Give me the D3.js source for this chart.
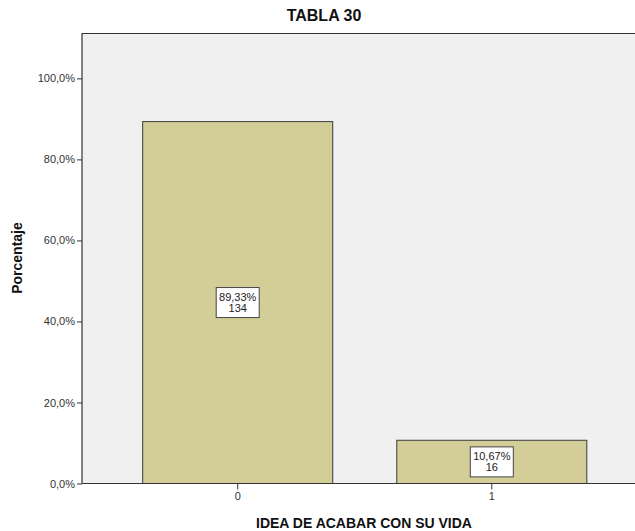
<!DOCTYPE html>
<html>
<head>
<meta charset="utf-8">
<script src="https://cdn.jsdelivr.net/npm/d3@7"></script>
<style>
  html, body { margin: 0; padding: 0; background: #fff; }
  svg { display: block; font-family: Arial, "Liberation Sans", sans-serif; }
</style>
</head>
<body>
<svg id="chart" width="635" height="531"></svg>
<script>
// Frequency of "IDEA DE ACABAR CON SU VIDA"
const categories = ["0", "1"];
const percentages = [89.33, 10.67];
const counts = [134, 16];
const yTicks = [0, 20, 40, 60, 80, 100];
const yTickLabels = ["0,0%", "20,0%", "40,0%", "60,0%", "80,0%", "100,0%"];

const svg = d3.select("#chart");
const W = 635, H = 531;
const plot = { left: 82, top: 33, bottom: 483.5, right: 647.5 };

const y = d3.scaleLinear().domain([0, 111.2]).range([plot.bottom, plot.top]);
const x = d3.scaleBand()
  .domain(categories)
  .range([plot.left, plot.right])
  .paddingInner(0.252)
  .paddingOuter(0.2388);

// Plot background
svg.append("rect")
  .attr("x", plot.left).attr("y", plot.top)
  .attr("width", plot.right - plot.left).attr("height", plot.bottom - plot.top)
  .attr("fill", "#f0f0f0");

// Bars
svg.append("g").selectAll("rect")
  .data(categories)
  .join("rect")
  .attr("x", d => x(d))
  .attr("y", (d, i) => y(percentages[i]))
  .attr("width", x.bandwidth())
  .attr("height", (d, i) => y(0) - y(percentages[i]))
  .attr("fill", "#d3ce97")
  .attr("stroke", "#3c3c3c")
  .attr("stroke-width", 1);

// Top frame line
svg.append("line")
  .attr("x1", plot.left).attr("x2", W)
  .attr("y1", plot.top + 0.5).attr("y2", plot.top + 0.5)
  .attr("stroke", "#333").attr("stroke-width", 1.2);

// Y axis
const yAxis = d3.axisLeft(y)
  .tickValues(yTicks)
  .tickFormat((d, i) => yTickLabels[i])
  .tickSize(5)
  .tickPadding(2)
  .tickSizeOuter(0);
const gy = svg.append("g")
  .attr("transform", `translate(${plot.left},0)`)
  .call(yAxis);
gy.select(".domain").attr("stroke", "#333").attr("stroke-width", 1.2)
  .attr("d", `M0,${plot.top}V${plot.bottom}`);
gy.selectAll(".tick line").attr("stroke", "#333");
gy.selectAll(".tick text").attr("font-size", 11).attr("fill", "#333")
  .attr("font-family", "Arial, 'Liberation Sans', sans-serif");

// X axis
const xAxis = d3.axisBottom(x).tickSize(6).tickPadding(3).tickSizeOuter(0);
const gx = svg.append("g")
  .attr("transform", `translate(0,${plot.bottom})`)
  .call(xAxis);
gx.select(".domain").attr("stroke", "#333").attr("stroke-width", 1.2)
  .attr("d", `M${plot.left},0H${W}`);
gx.selectAll(".tick line").attr("stroke", "#333");
gx.selectAll(".tick text").attr("font-size", 11).attr("fill", "#333")
  .attr("font-family", "Arial, 'Liberation Sans', sans-serif");

// Value labels (percentage + count) centred in each bar
const labels = svg.append("g").selectAll("g")
  .data(categories)
  .join("g")
  .attr("transform", (d, i) => {
    const cx = x(d) + x.bandwidth() / 2;
    const cy = (y(percentages[i]) + y(0)) / 2;
    return `translate(${cx},${cy})`;
  });
labels.append("rect")
  .attr("x", -21.5).attr("y", -15)
  .attr("width", 43).attr("height", 30)
  .attr("fill", "#ffffff")
  .attr("stroke", "#444").attr("stroke-width", 1);
labels.append("text")
  .attr("text-anchor", "middle")
  .attr("y", -2)
  .attr("font-size", 11).attr("fill", "#222")
  .text((d, i) => percentages[i].toFixed(2).replace(".", ",") + "%");
labels.append("text")
  .attr("text-anchor", "middle")
  .attr("y", 9)
  .attr("font-size", 11).attr("fill", "#222")
  .text((d, i) => counts[i]);

// Titles
svg.append("text")
  .attr("x", 324).attr("y", 21)
  .attr("text-anchor", "middle")
  .attr("font-size", 16).attr("font-weight", "bold").attr("fill", "#111")
  .text("TABLA 30");

svg.append("text")
  .attr("x", 364).attr("y", 527.5)
  .attr("text-anchor", "middle")
  .attr("font-size", 14).attr("font-weight", "bold").attr("fill", "#111")
  .text("IDEA DE ACABAR CON SU VIDA");

svg.append("text")
  .attr("transform", "translate(22,258) rotate(-90)")
  .attr("text-anchor", "middle")
  .attr("font-size", 14).attr("font-weight", "bold").attr("fill", "#111")
  .text("Porcentaje");
</script>
</body>
</html>
